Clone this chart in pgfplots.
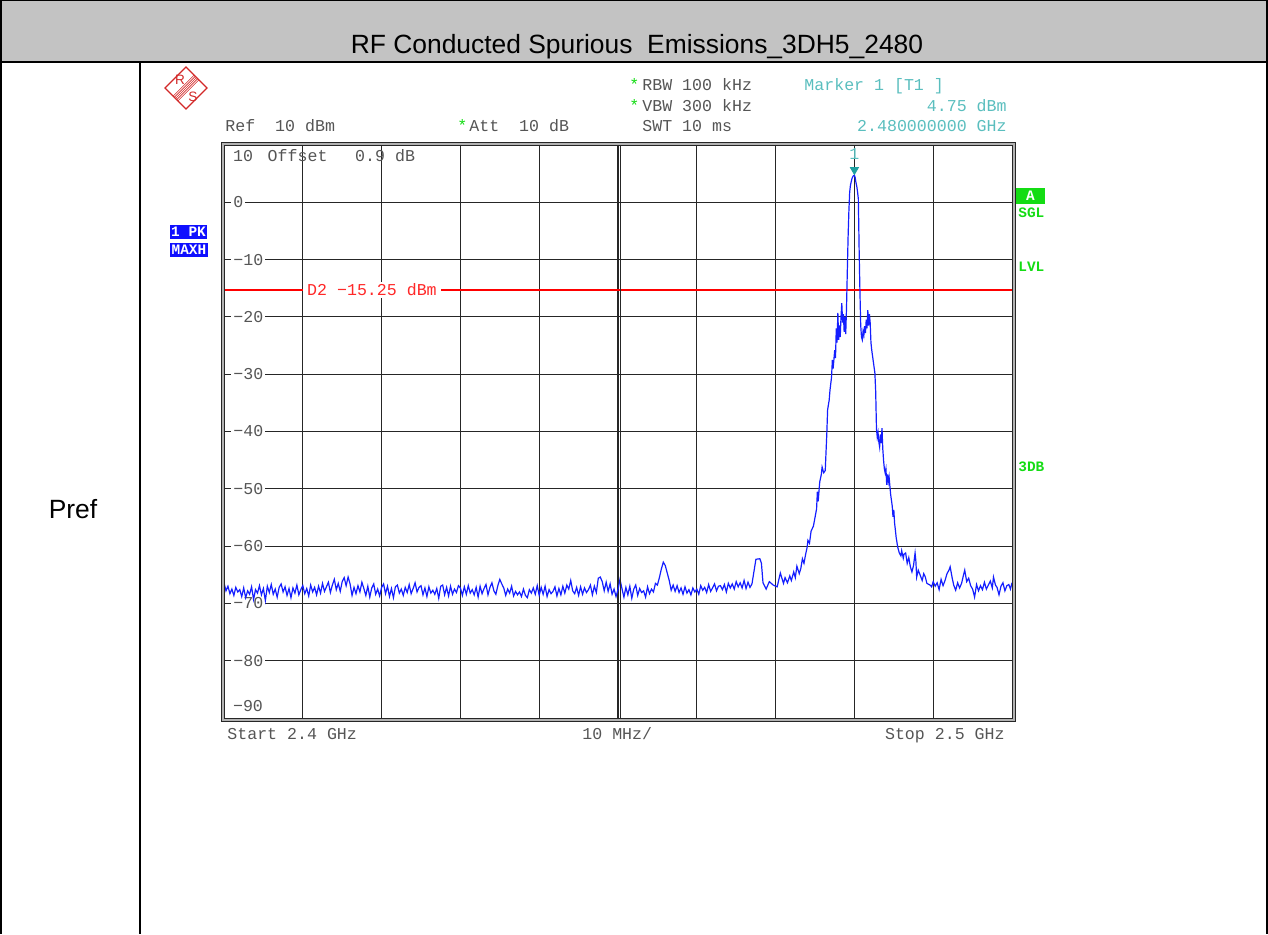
\documentclass[border=0pt]{standalone}
\usepackage{fontspec}
\setmainfont{Liberation Sans}
\newfontfamily\mono{Liberation Mono}
\usepackage{pgfplots}
\pgfplotsset{compat=1.18}
\definecolor{hdr}{RGB}{195,195,195}
\definecolor{trace}{RGB}{20,30,255}
\definecolor{txtgray}{RGB}{85,85,85}
\definecolor{teal1}{RGB}{90,190,190}
\definecolor{teal2}{RGB}{30,160,160}
\definecolor{dred}{RGB}{255,40,40}
\definecolor{sgreen}{RGB}{20,220,20}
\definecolor{sblue}{RGB}{15,15,255}
\definecolor{logored}{RGB}{210,40,40}
\tikzset{
  mt/.style={font=\mono\fontsize{8.3}{9}\selectfont, text=txtgray, inner sep=0pt},
  mb/.style={font=\mono\bfseries\fontsize{7.2}{8}\selectfont, inner sep=0pt},
}
\begin{document}
\begin{tikzpicture}[x=0.5pt,y=-0.5pt]
\useasboundingbox (0,0) rectangle (1268,934);
% table frame
\fill[hdr] (0,0) rectangle (1268,62);
\draw[black, line width=0.6pt] (0,0.6) -- (1268,0.6);
\draw[black, line width=0.6pt] (1,0) -- (1,934);
\draw[black, line width=0.6pt] (1267,0) -- (1267,934);
\draw[black, line width=0.6pt] (0,62) -- (1268,62);
\draw[black, line width=0.6pt] (140,62) -- (140,934);
\node[anchor=base, font=\fontsize{13.2}{15}\selectfont, inner sep=0pt] at (637,53) {RF Conducted Spurious\ \ Emissions\_3DH5\_2480};
\node[anchor=base, font=\fontsize{13.2}{15}\selectfont, inner sep=0pt] at (73,518) {Pref};
% R&S logo
\draw[logored, line width=0.55pt] (186,67) -- (207,88) -- (186,109) -- (165,88) -- cycle;
\foreach \k in {-2.4,-1.2,0,1.2,2.4}{
  \draw[logored, line width=0.3pt] (196.5+\k,77.5+\k) -- (175.5+\k,98.5+\k);
}
\node[text=logored, font=\fontsize{6.8}{7}\selectfont, inner sep=0pt] at (180,80) {R};
\node[text=logored, font=\fontsize{6.8}{7}\selectfont, inner sep=0pt] at (193,97) {S};
% header texts
\node[mt, anchor=base west] at (225,131.5) {Ref\ \ 10 dBm};
\node[mt, anchor=base west] at (469,131.5) {Att\ \ 10 dB};
\node[mt, anchor=base west, text=sgreen] at (457,131.5) {*};
\node[mt, anchor=base west] at (642,90.5) {RBW 100 kHz};
\node[mt, anchor=base west, text=sgreen] at (629,90.5) {*};
\node[mt, anchor=base west] at (642,111) {VBW 300 kHz};
\node[mt, anchor=base west, text=sgreen] at (629,111) {*};
\node[mt, anchor=base west] at (642,131.5) {SWT 10 ms};
\node[mt, anchor=base west, text=teal1] at (804,90.5) {Marker 1 [T1 ]};
\node[mt, anchor=base east, text=teal1] at (1007,111) {4.75 dBm};
\node[mt, anchor=base east, text=teal1] at (1007,131.5) {2.480000000 GHz};
% bottom texts
\node[mt, anchor=base west] at (227,739.5) {Start 2.4 GHz};
\node[mt, anchor=base west] at (582,739.5) {10 MHz/};
\node[mt, anchor=base east] at (1005,739.5) {Stop 2.5 GHz};
% left boxes
\node[mb, fill=sblue, text=white, minimum width=18.5pt, minimum height=7pt] at (188.5,232) {1 PK};
\node[mb, fill=sblue, text=white, minimum width=19pt, minimum height=7pt] at (189,250) {MAXH};
% right labels
\node[mb, fill=sgreen, text=white, minimum width=14.5pt, minimum height=8pt] at (1030.5,196) {A};
\node[mb, anchor=west, text=sgreen] at (1018,213) {SGL};
\node[mb, anchor=west, text=sgreen] at (1018,267) {LVL};
\node[mb, anchor=west, text=sgreen] at (1018,467) {3DB};
\coordinate (sw) at (224,718);
\begin{axis}[at={(sw)}, anchor=south west, scale only axis,
  width=394pt, height=286.5pt,
  xmin=0, xmax=100, ymin=-90, ymax=10,
  xtick={10,20,...,90}, ytick={-80,-70,...,0},
  xticklabels={}, yticklabels={}, major tick length=0pt,
  grid=major, grid style={black!85, line width=0.55pt},
  axis line style={black, line width=0.5pt},
  clip=true]
% y labels
\foreach \v/\t in {0/0,-10/−10,-20/−20,-30/−30,-40/−40,-50/−50,-60/−60,-70/−70,-80/−80}{
  \edef\temp{\noexpand\node[mt, anchor=west, fill=white, inner xsep=1pt, inner ysep=1pt] at (axis cs:0.9,\v) {\t};}
  \temp
}
\node[mt, anchor=west] at (axis cs:1.1,8.1) {10};
\node[mt, anchor=west] at (axis cs:5.5,8.1) {Offset};
\node[mt, anchor=west] at (axis cs:16.6,8.1) {0.9 dB};
\node[mt, anchor=west] at (axis cs:1.1,-87.9) {−90};
% display line
\addplot[draw=red, solid, line width=0.9pt, mark=none, forget plot] table[row sep=\\] {x y\\ 0 -15.25\\ 100 -15.25\\};
\node[mt, text=dred, anchor=west, fill=white, inner xsep=2pt, inner ysep=1pt] at (axis cs:10.0,-15.25) {D2 −15.25 dBm};
% trace
\addplot[color=trace, solid, line width=0.6pt, mark=none] coordinates {
(0.00,-66.4) (0.25,-67.8) (0.50,-67.0) (0.75,-68.3) (1.00,-67.5) (1.25,-68.6) (1.50,-67.2) (1.75,-68.0) (2.00,-67.6) (2.25,-68.8)
(2.50,-67.3) (2.75,-69.0) (3.00,-67.8) (3.25,-68.4) (3.50,-67.1) (3.75,-69.3) (4.00,-67.6) (4.25,-68.2) (4.50,-66.9) (4.75,-68.5)
(5.00,-67.4) (5.25,-69.5) (5.50,-67.0) (5.75,-68.1) (6.00,-66.7) (6.25,-68.4) (6.50,-67.5) (6.75,-68.9) (7.00,-67.2) (7.25,-66.6)
(7.50,-68.0) (7.75,-67.1) (8.00,-68.6) (8.25,-67.4) (8.50,-69.0) (8.75,-67.3) (9.00,-68.2) (9.25,-66.8) (9.50,-68.5) (9.75,-67.6)
(10.00,-66.9) (10.25,-68.3) (10.50,-67.4) (10.75,-68.7) (11.00,-66.8) (11.25,-68.0) (11.50,-67.2) (11.75,-68.5) (12.00,-67.0) (12.25,-68.2)
(12.50,-66.5) (12.75,-67.9) (13.00,-67.1) (13.25,-66.3) (13.50,-68.1) (13.75,-66.8) (14.00,-65.8) (14.25,-67.6) (14.50,-66.5) (14.75,-67.9)
(15.00,-66.2) (15.25,-65.5) (15.50,-66.9) (15.75,-65.4) (16.00,-66.6) (16.25,-68.6) (16.50,-67.2) (16.75,-68.3) (17.00,-66.9) (17.25,-68.0)
(17.50,-66.3) (17.75,-67.4) (18.00,-68.6) (18.25,-67.0) (18.50,-68.9) (18.75,-67.3) (19.00,-66.6) (19.25,-68.4) (19.50,-67.5) (19.75,-68.7)
(20.00,-67.2) (20.25,-66.6) (20.50,-68.3) (20.75,-67.0) (21.00,-68.8) (21.25,-67.4) (21.50,-69.0) (21.75,-67.1) (22.00,-66.8) (22.25,-68.2)
(22.50,-67.5) (22.75,-68.6) (23.00,-67.2) (23.25,-68.1) (23.50,-66.7) (23.75,-68.3) (24.00,-67.4) (24.25,-66.4) (24.50,-68.0) (24.75,-67.2)
(25.00,-66.9) (25.25,-68.5) (25.50,-67.3) (25.75,-68.8) (26.00,-67.1) (26.25,-68.2) (26.50,-67.7) (26.75,-68.4) (27.00,-67.4) (27.25,-69.1)
(27.50,-67.0) (27.75,-66.8) (28.00,-68.5) (28.25,-67.2) (28.50,-68.7) (28.75,-67.0) (29.00,-68.4) (29.25,-67.5) (29.50,-68.1) (29.75,-66.9)
(30.00,-67.3) (30.25,-68.6) (30.50,-67.1) (30.75,-68.4) (31.00,-66.9) (31.25,-68.2) (31.50,-67.6) (31.75,-68.5) (32.00,-67.2) (32.25,-68.9)
(32.50,-67.0) (32.75,-68.3) (33.00,-67.4) (33.25,-66.7) (33.50,-68.5) (33.75,-67.2) (34.00,-66.4) (34.25,-67.8) (34.50,-68.4) (34.75,-66.9)
(35.00,-65.8) (35.25,-66.6) (35.50,-67.3) (35.75,-68.6) (36.00,-67.5) (36.25,-68.2) (36.50,-67.0) (36.75,-68.7) (37.00,-67.9) (37.25,-68.5)
(37.50,-68.0) (37.75,-68.8) (38.00,-67.5) (38.25,-68.6) (38.50,-69.0) (38.75,-67.6) (39.00,-68.2) (39.25,-67.3) (39.50,-68.4) (39.75,-66.9)
(40.00,-68.6) (40.25,-67.2) (40.50,-68.4) (40.75,-67.0) (41.00,-68.8) (41.25,-67.6) (41.50,-68.3) (41.75,-67.9) (42.00,-67.1) (42.25,-68.7)
(42.50,-67.4) (42.75,-68.5) (43.00,-67.0) (43.25,-68.2) (43.50,-66.8) (43.75,-67.5) (44.00,-66.0) (44.25,-67.8) (44.50,-68.3) (44.75,-67.2)
(45.00,-68.6) (45.25,-67.1) (45.50,-68.4) (45.75,-67.3) (46.00,-68.1) (46.25,-67.6) (46.50,-66.8) (46.75,-68.5) (47.00,-67.0) (47.25,-68.1)
(47.50,-65.6) (47.75,-65.4) (48.00,-66.2) (48.25,-67.8) (48.50,-66.3) (48.75,-67.9) (49.00,-66.6) (49.25,-68.4) (49.50,-67.5) (49.75,-68.8)
(50.00,-67.6) (50.25,-65.8) (50.50,-67.4) (50.75,-68.9) (51.00,-67.2) (51.25,-68.5) (51.50,-67.0) (51.75,-69.1) (52.00,-67.5) (52.25,-66.8)
(52.50,-68.6) (52.75,-67.4) (53.00,-68.1) (53.25,-67.8) (53.50,-68.9) (53.75,-67.1) (54.00,-68.3) (54.25,-67.5) (54.50,-68.0) (54.75,-66.5)
(55.00,-66.8) (55.25,-65.5) (55.50,-64.0) (55.75,-62.8) (56.00,-63.4) (56.25,-64.7) (56.50,-66.0) (56.75,-67.7)
(57.00,-66.8) (57.25,-67.9) (57.50,-66.9) (57.75,-68.1) (58.00,-67.3) (58.25,-68.4) (58.50,-67.1) (58.75,-68.2) (59.00,-67.6) (59.25,-68.5)
(59.50,-67.3) (59.75,-68.0) (60.00,-67.5) (60.25,-68.4) (60.50,-66.9) (60.75,-67.7) (61.00,-67.2) (61.25,-68.1) (61.50,-66.7) (61.75,-67.9)
(62.00,-67.3) (62.25,-66.6) (62.50,-67.8) (62.75,-67.0) (63.00,-66.9) (63.25,-67.6) (63.50,-66.7) (63.75,-68.0) (64.00,-66.5) (64.25,-67.3)
(64.50,-66.6) (64.75,-67.5) (65.00,-66.2) (65.25,-67.1) (65.50,-66.4) (65.75,-67.3) (66.00,-66.0) (66.25,-67.4) (66.50,-66.3) (66.75,-67.2)
(67.0,-66.6) (67.5,-62.3) (68.0,-62.2) (68.2,-63.0) (68.4,-66.4) (68.8,-67.5) (69.2,-66.2) (69.7,-66.8) (70.2,-67.1) (70.6,-64.7)
(71.0,-66.5) (71.2,-65.5) (71.5,-66.4) (71.8,-65.2) (72.0,-66.0) (72.3,-64.5) (72.5,-65.5) (72.7,-63.5) (73.0,-64.8) (73.2,-63.9)
(73.4,-62.2) (73.6,-63.0) (73.8,-61.5) (74.0,-60.2) (74.1,-59.0) (74.3,-59.5) (74.5,-57.4) (74.8,-56.5) (75.0,-55.0) (75.2,-53.5)
(75.3,-50.5) (75.4,-52.2) (75.6,-48.8) (75.8,-47.5) (75.9,-46.2) (76.1,-47.2) (76.3,-46.8) (76.5,-40.3) (76.6,-36.2) (76.8,-34.5)
(76.9,-32.8) (77.1,-30.5) (77.2,-27.5) (77.3,-29.0) (77.5,-25.8) (77.6,-27.2) (77.7,-22.0) (77.8,-24.5) (77.9,-19.3) (78.0,-24.0)
(78.1,-21.5) (78.2,-23.5) (78.3,-20.0) (78.4,-17.6) (78.5,-21.0) (78.6,-19.5) (78.7,-22.6) (78.8,-20.0) (78.9,-23.0) (79.0,-18.3)
(79.1,-12.0) (79.2,-6.0) (79.3,-1.5) (79.4,1.8) (79.5,3.0) (79.7,4.2) (79.85,4.6) (80.0,4.75) (80.1,4.3) (80.2,3.4)
(80.3,2.8) (80.4,1.8) (80.5,0.6) (80.6,-8.3) (80.7,-15.5) (80.8,-21.5) (80.9,-23.5) (81.0,-24.0) (81.1,-22.5) (81.2,-23.2)
(81.3,-21.6) (81.4,-22.8) (81.5,-20.5) (81.6,-22.0) (81.7,-18.8) (81.8,-21.5) (81.9,-19.5) (82.0,-21.0) (82.1,-24.5) (82.2,-25.8)
(82.4,-27.8) (82.6,-29.8) (82.7,-33.0) (82.8,-39.5) (82.9,-41.0) (83.0,-40.2) (83.1,-41.8) (83.2,-42.7) (83.3,-40.5) (83.4,-42.0)
(83.5,-39.4) (83.6,-43.0) (83.7,-45.0) (83.8,-46.5) (83.9,-47.2) (84.0,-46.5) (84.1,-49.3) (84.2,-47.5) (84.3,-48.8) (84.4,-47.9)
(84.5,-49.5) (84.6,-51.0) (84.8,-53.0) (84.9,-54.9) (85.0,-53.7) (85.1,-56.0) (85.2,-57.2) (85.3,-58.5) (85.5,-60.2) (85.7,-61.2)
(85.9,-61.7) (86.0,-60.8) (86.2,-62.1) (86.3,-61.4) (86.5,-61.2) (86.7,-63.0) (86.9,-62.0) (87.1,-63.6) (87.3,-64.5) (87.5,-63.4)
(87.7,-61.2) (87.8,-62.6) (87.9,-65.4) (88.1,-64.2) (88.3,-64.9) (88.6,-66.0) (88.8,-64.8) (89.0,-65.4) (89.2,-66.5) (89.6,-66.8)
(89.8,-67.1) (90.0,-66.2) (90.25,-67.0) (90.5,-66.4) (90.75,-67.6) (91.0,-65.8) (91.25,-66.9) (91.5,-66.0) (91.75,-64.8) (92.0,-64.2)
(92.15,-63.6) (92.4,-65.5) (92.6,-66.8) (92.85,-67.7) (93.1,-66.4) (93.35,-67.3) (93.6,-66.5) (93.85,-65.0) (94.0,-64.2) (94.25,-66.2)
(94.5,-65.6) (94.75,-66.9) (95.0,-67.5) (95.25,-68.9) (95.5,-66.7) (95.75,-67.8) (96.0,-66.9) (96.25,-67.6) (96.5,-66.3) (96.75,-67.5)
(97.0,-66.8) (97.25,-66.1) (97.5,-67.3) (97.65,-65.4) (97.9,-66.8) (98.1,-67.2) (98.35,-68.5) (98.6,-67.0) (98.85,-66.4) (99.1,-67.8)
(99.35,-66.9) (99.6,-66.7) (99.8,-67.5) (100.0,-66.4)
};
% marker
\addplot[only marks, mark=triangle*, mark size=2.3pt, color=teal2, mark options={rotate=180, yshift=-2.6pt}] coordinates {(80,4.75)};
\node[mt, text=teal1] at (axis cs:80,8.4) {1};
\end{axis}
% border
\draw[black!85, line width=0.5pt] (221,142) rectangle (1015,721);
\draw[gray!60, line width=1pt] (222.5,143.5) rectangle (1013.5,719.5);
\draw[black!85, line width=0.5pt] (224,145) rectangle (1012,718);
\draw[black!85, line width=0.5pt] (620,145) -- (620,718);
\end{tikzpicture}
\end{document}
